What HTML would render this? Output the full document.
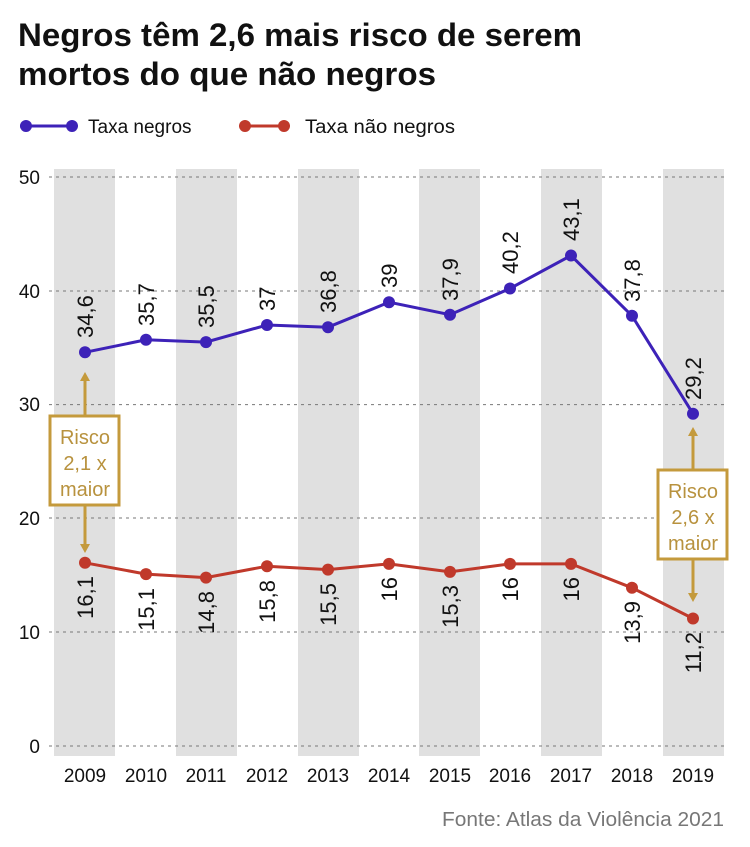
<!DOCTYPE html>
<html><head><meta charset="utf-8"><style>
body{margin:0;background:#fff;}
svg{display:block;font-family:"Liberation Sans",sans-serif;}
</style></head><body>
<svg width="750" height="847" viewBox="0 0 750 847">
<text x="18" y="46" font-size="32" font-weight="bold" fill="#111" textLength="564" lengthAdjust="spacingAndGlyphs">Negros têm 2,6 mais risco de serem</text>
<text x="18" y="85" font-size="32" font-weight="bold" fill="#111" textLength="418" lengthAdjust="spacingAndGlyphs">mortos do que não negros</text>
<line x1="20" y1="126" x2="76" y2="126" stroke="#3d22b8" stroke-width="3"/>
<circle cx="26" cy="126" r="6" fill="#3d22b8"/><circle cx="72" cy="126" r="6" fill="#3d22b8"/>
<text x="88" y="133" font-size="19" fill="#111">Taxa negros</text>
<line x1="240" y1="126" x2="288" y2="126" stroke="#c0392b" stroke-width="3"/>
<circle cx="245" cy="126" r="6" fill="#c0392b"/><circle cx="284" cy="126" r="6" fill="#c0392b"/>
<text x="305" y="133" font-size="19" fill="#111" textLength="150" lengthAdjust="spacingAndGlyphs">Taxa não negros</text>
<g fill="#e0e0e0">
<rect x="54" y="169" width="61" height="587"/><rect x="176" y="169" width="61" height="587"/>
<rect x="298" y="169" width="61" height="587"/><rect x="419" y="169" width="61" height="587"/>
<rect x="541" y="169" width="61" height="587"/><rect x="663" y="169" width="61" height="587"/>
</g>
<g stroke="#777" stroke-dasharray="3,4" stroke-width="1">
<line x1="49" y1="177" x2="728" y2="177"/><line x1="49" y1="291" x2="728" y2="291"/>
<line x1="49" y1="404.6" x2="728" y2="404.6"/><line x1="49" y1="518" x2="728" y2="518"/>
<line x1="49" y1="632" x2="728" y2="632"/><line x1="49" y1="746" x2="728" y2="746"/>
</g>
<g font-size="19" fill="#111" text-anchor="end">
<text x="40" y="184">50</text><text x="40" y="298">40</text><text x="40" y="411">30</text>
<text x="40" y="525">20</text><text x="40" y="639">10</text><text x="40" y="753">0</text>
</g>
<g font-size="19" fill="#111" text-anchor="middle">
<text x="85" y="782">2009</text><text x="146" y="782">2010</text><text x="206" y="782">2011</text>
<text x="267" y="782">2012</text><text x="328" y="782">2013</text><text x="389" y="782">2014</text>
<text x="450" y="782">2015</text><text x="510" y="782">2016</text><text x="571" y="782">2017</text>
<text x="632" y="782">2018</text><text x="693" y="782">2019</text>
</g>
<polyline fill="none" stroke="#3d22b8" stroke-width="3" points="85,352.3 146,339.8 206,342.1 267,325 328,327.2 389,302.2 450,314.7 510,288.5 571,255.5 632,315.8 693,413.7"/>
<g fill="#3d22b8">
<circle cx="85" cy="352.3" r="6"/><circle cx="146" cy="339.8" r="6"/><circle cx="206" cy="342.1" r="6"/>
<circle cx="267" cy="325" r="6"/><circle cx="328" cy="327.2" r="6"/><circle cx="389" cy="302.2" r="6"/>
<circle cx="450" cy="314.7" r="6"/><circle cx="510" cy="288.5" r="6"/><circle cx="571" cy="255.5" r="6"/>
<circle cx="632" cy="315.8" r="6"/><circle cx="693" cy="413.7" r="6"/>
</g>
<polyline fill="none" stroke="#c0392b" stroke-width="3" points="85,562.8 146,574.1 206,577.6 267,566.2 328,569.6 389,563.9 450,571.9 510,563.9 571,563.9 632,587.8 693,618.5"/>
<g fill="#c0392b">
<circle cx="85" cy="562.8" r="6"/><circle cx="146" cy="574.1" r="6"/><circle cx="206" cy="577.6" r="6"/>
<circle cx="267" cy="566.2" r="6"/><circle cx="328" cy="569.6" r="6"/><circle cx="389" cy="563.9" r="6"/>
<circle cx="450" cy="571.9" r="6"/><circle cx="510" cy="563.9" r="6"/><circle cx="571" cy="563.9" r="6"/>
<circle cx="632" cy="587.8" r="6"/><circle cx="693" cy="618.5" r="6"/>
</g>
<g font-size="22" fill="#111">
<text transform="translate(93,338) rotate(-90)">34,6</text>
<text transform="translate(154,326) rotate(-90)">35,7</text>
<text transform="translate(214,328) rotate(-90)">35,5</text>
<text transform="translate(275,311) rotate(-90)">37</text>
<text transform="translate(336,313) rotate(-90)">36,8</text>
<text transform="translate(397,288) rotate(-90)">39</text>
<text transform="translate(458,301) rotate(-90)">37,9</text>
<text transform="translate(518,274) rotate(-90)">40,2</text>
<text transform="translate(579,241) rotate(-90)">43,1</text>
<text transform="translate(640,302) rotate(-90)">37,8</text>
<text transform="translate(701,400) rotate(-90)">29,2</text>
</g>
<g font-size="22" fill="#111" text-anchor="end">
<text transform="translate(93,576) rotate(-90)">16,1</text>
<text transform="translate(154,588) rotate(-90)">15,1</text>
<text transform="translate(214,591) rotate(-90)">14,8</text>
<text transform="translate(275,580) rotate(-90)">15,8</text>
<text transform="translate(336,583) rotate(-90)">15,5</text>
<text transform="translate(397,577) rotate(-90)">16</text>
<text transform="translate(458,585) rotate(-90)">15,3</text>
<text transform="translate(518,577) rotate(-90)">16</text>
<text transform="translate(579,577) rotate(-90)">16</text>
<text transform="translate(640,601) rotate(-90)">13,9</text>
<text transform="translate(701,632) rotate(-90)">11,2</text>
</g>
<g stroke="#c49a3c" stroke-width="3" fill="none">
<line x1="85" y1="378" x2="85" y2="415"/><line x1="85" y1="506" x2="85" y2="548"/>
<rect x="50" y="416" width="69" height="89" fill="#fff"/>
<line x1="693" y1="434" x2="693" y2="470"/><line x1="693" y1="560" x2="693" y2="596"/>
<rect x="658" y="470" width="69" height="89" fill="#fff"/>
</g>
<g fill="#c49a3c">
<polygon points="85,372 80,381 90,381"/><polygon points="85,553 80,544 90,544"/>
<polygon points="693,427 688,436 698,436"/><polygon points="693,602 688,593 698,593"/>
</g>
<g font-size="20" fill="#b8923e" text-anchor="middle">
<text x="85" y="444">Risco</text><text x="85" y="470">2,1 x</text><text x="85" y="496">maior</text>
<text x="693" y="498">Risco</text><text x="693" y="524">2,6 x</text><text x="693" y="550">maior</text>
</g>
<text x="724" y="826" font-size="20" fill="#777" text-anchor="end" textLength="282" lengthAdjust="spacingAndGlyphs">Fonte: Atlas da Violência 2021</text>
</svg>
</body></html>
